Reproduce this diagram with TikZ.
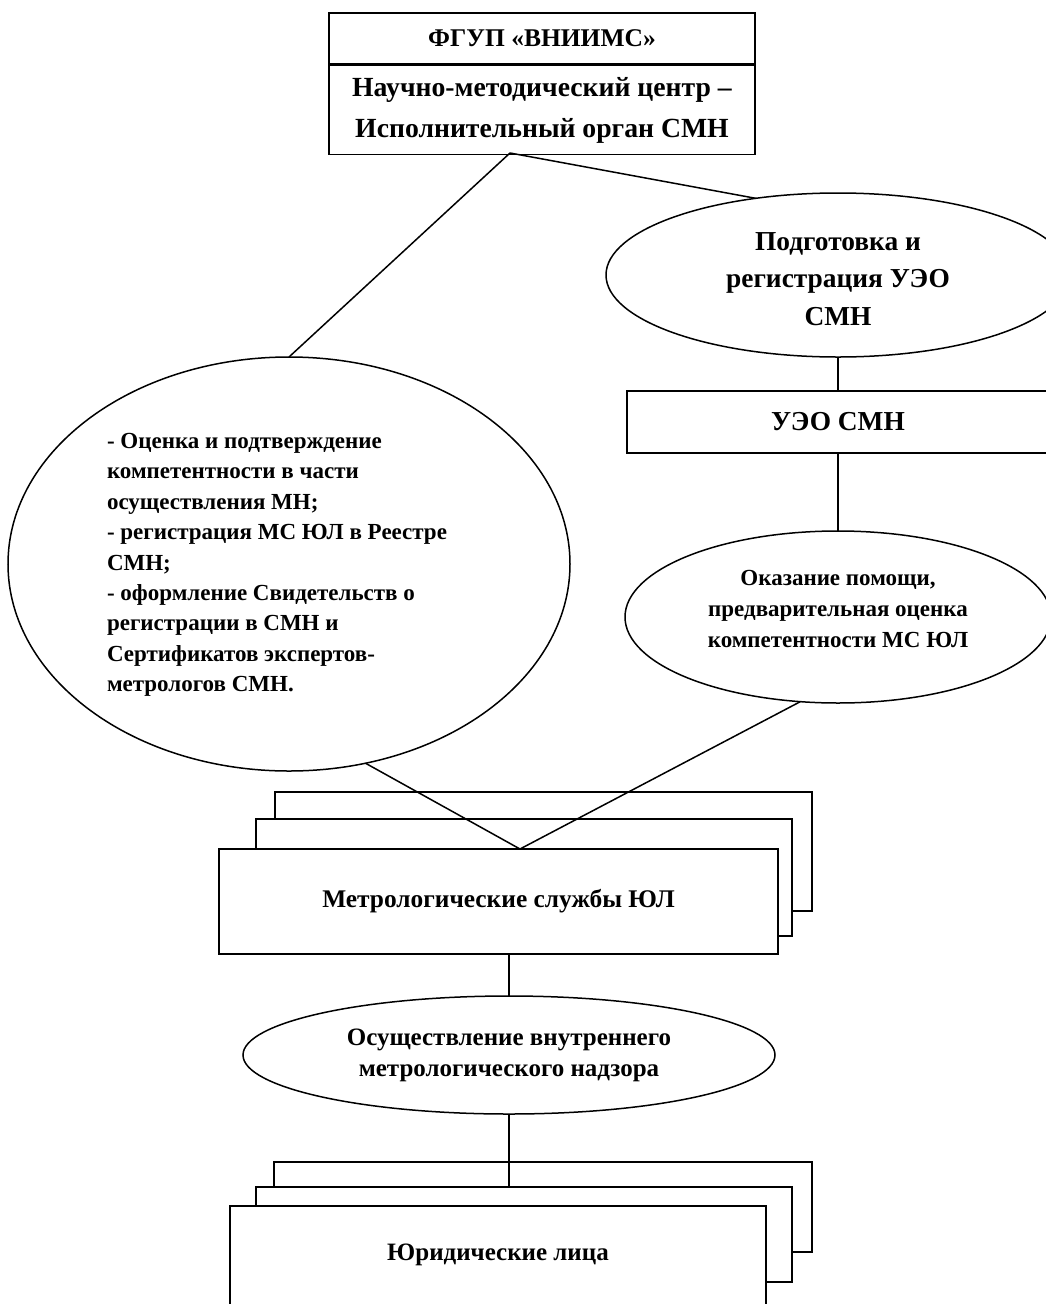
\documentclass[tikz,border=0pt]{standalone}
\usepackage{fontspec}
\setmainfont{Liberation Serif}
\usetikzlibrary{shapes.geometric}
\newcommand\myshift[2]{\raisebox{-#1}[\height][\depth]{#2}}
\begin{document}
\begin{tikzpicture}[x=1pt,y=-1pt,
  lw/.style={line width=1.5pt},
  box/.style={draw,lw,fill=white,rectangle,inner sep=0pt,outer sep=0pt,align=center},
  oval/.style={draw,lw,fill=white,ellipse,inner sep=0pt,outer sep=0pt},
  link/.style={lw}]
\useasboundingbox (0,0) rectangle (1046,1304);
\clip (0,0) rectangle (1046,1304);
% top block
\node[box,minimum width=426pt,minimum height=51pt,font=\bfseries\fontsize{25.5}{30}\selectfont] (T1) at (542,38.5) {ФГУП «ВНИИМС»};
\node[box,minimum width=426pt,minimum height=89pt,font=\bfseries\fontsize{27.7}{41}\selectfont] (T2) at (542,110) {Научно-методический центр –\\Исполнительный орган СМН};
\coordinate (fork) at (510,153);
% right column
\node[oval,minimum width=464pt,minimum height=164pt,font=\bfseries\fontsize{27.4}{37.5}\selectfont] (R1) at (838,275)
  {\myshift{5pt}{\begin{tabular}{@{}c@{}}Подготовка и\\регистрация УЭО\\СМН\end{tabular}}};
\node[box,minimum width=422pt,minimum height=62pt,font=\bfseries\fontsize{27.4}{34}\selectfont] (UEO) at (838,422) {УЭО СМН};
\node[oval,minimum width=426pt,minimum height=172pt,font=\bfseries\fontsize{23}{31}\selectfont] (R2) at (838,617)
  {\myshift{-7pt}{\begin{tabular}{@{}c@{}}Оказание помощи,\\предварительная оценка\\компетентности МС ЮЛ\end{tabular}}};
% left ellipse
\node[oval,minimum width=562pt,minimum height=414pt,font=\bfseries\fontsize{23}{30.4}\selectfont] (L) at (289,564)
  {\begin{tabular}{@{}l@{\hspace{24pt}}}- Оценка и подтверждение\\компетентности в части\\осуществления МН;\\- регистрация МС ЮЛ в Реестре\\СМН;\\- оформление Свидетельств о\\регистрации в СМН и\\Сертификатов экспертов-\\метрологов СМН.\end{tabular}};
% metrology services stack
\node[box,minimum width=537pt,minimum height=119pt] (MSb) at (543.5,851.5) {};
\node[box,minimum width=536pt,minimum height=117pt] (MSm) at (524,877.5) {};
\node[box,minimum width=559pt,minimum height=105pt,font=\bfseries\fontsize{25.4}{30}\selectfont] (MS) at (498.5,901.5) {Метрологические службы ЮЛ};
\coordinate (apex) at (520,849);
% internal supervision
\node[oval,minimum width=532pt,minimum height=118pt,font=\bfseries\fontsize{25}{31}\selectfont] (O) at (509,1055)
  {\begin{tabular}{@{}c@{}}Осуществление внутреннего\\метрологического надзора\end{tabular}};
% legal entities stack
\node[box,minimum width=538pt,minimum height=90pt] (Jb) at (543,1207) {};
\node[box,minimum width=536pt,minimum height=95pt] (Jm) at (524,1234.5) {};
\node[box,minimum width=536pt,minimum height=124pt,text height=18pt,text depth=34pt,font=\bfseries\fontsize{25}{30}\selectfont] (J) at (498,1268) {Юридические лица};
% connectors
\draw[link] (fork) -- (L.north);
\draw[link] (fork) -- (R1.137);
\draw[link] (R1.south) -- (UEO.north);
\draw[link] (UEO.south) -- (R2.north);
\draw[link] (L.-69) -- (apex);
\draw[link] (R2.-114) -- (apex);
\draw[link] (MS.south -| O.north) -- (O.north);
\draw[link] (O.south) -- (O.south |- Jm.north);
\end{tikzpicture}
\end{document}
